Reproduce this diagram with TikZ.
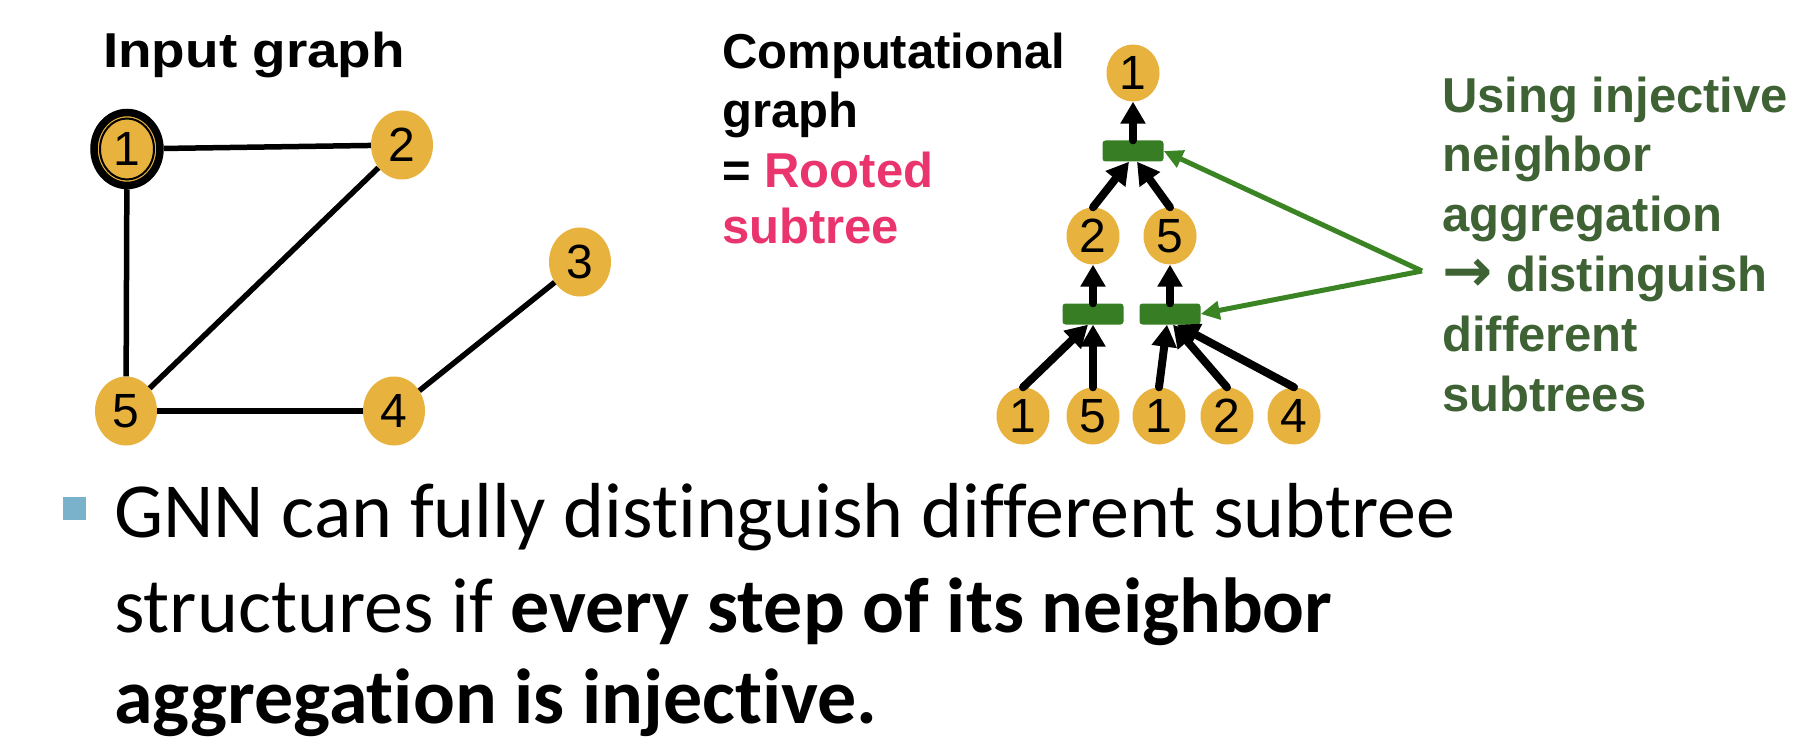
\documentclass[tikz,border=0pt]{standalone}
\usepackage{fontspec}
\usepackage{graphicx}
\setmainfont{Liberation Sans}
\newfontfamily\bodyfont[Ligatures=NoCommon]{Carlito}
\newfontfamily\arrowfont{DejaVu Sans}
\usetikzlibrary{arrows.meta,shapes.geometric,calc}
\definecolor{nodeyellow}{RGB}{232,178,62}
\definecolor{boxgreen}{RGB}{54,125,35}
\definecolor{arrowgreen}{RGB}{58,132,36}
\definecolor{textgreen}{RGB}{63,98,52}
\definecolor{rootpink}{RGB}{234,52,110}
\definecolor{bulletblue}{RGB}{122,178,204}
\tikzset{
  gnode/.style={ellipse, fill=nodeyellow, inner sep=0pt, minimum width=62pt, minimum height=69pt, font=\fontsize{48}{48}\selectfont},
  tnode/.style={ellipse, fill=nodeyellow, inner sep=0pt, minimum width=53pt, minimum height=57pt, font=\fontsize{48}{48}\selectfont},
  aggbox/.style={rectangle, rounded corners=3pt, fill=boxgreen, minimum width=61pt, minimum height=21pt, inner sep=0pt},
  gedge/.style={line width=5.5pt},
  tarrow/.style={line width=8pt, line cap=round, -{Triangle[width=24pt,length=22pt]}},
  garrow/.style={draw=arrowgreen, line width=5pt, -{Triangle[width=18pt,length=19pt]}},
  headtxt/.style={anchor=base west, inner sep=0pt, font=\fontsize{49}{49}\selectfont\bfseries},
  bodytxt/.style={anchor=base west, inner sep=0pt, font=\bodyfont\fontsize{78}{78}\selectfont},
}
\begin{document}
\begin{tikzpicture}[x=1pt,y=-1pt]
\useasboundingbox[fill=white] (0,0) rectangle (1816,754);

% ---- Input graph ----
\node[headtxt] (title) at (103,68) {\scalebox{1.12}[1]{Input graph}};

\node[gnode, draw=black, line width=7.5pt, minimum width=66pt, minimum height=73pt] (n1) at (127,149) {1};
\draw[line width=2pt] (n1.center) ellipse [x radius=27pt, y radius=30.5pt];
\node[gnode] (n2) at (402,145) {2};
\node[gnode] (n3) at (580,262) {3};
\node[gnode] (n4) at (394,411) {4};
\node[gnode] (n5) at (126,411) {5};

\draw[gedge] (n1) -- (n2);
\draw[gedge] (n1) -- (n5);
\draw[gedge] (n2) -- (n5);
\draw[gedge] (n5) -- (n4);
\draw[gedge] (n4) -- (n3);

% ---- Computational graph text ----
\node[headtxt] (c1) at (722,69) {Computational};
\node[headtxt] (c2) at (722,128) {graph};
\node[headtxt] (c3) at (722,188) {= \textcolor{rootpink}{Rooted}};
\node[headtxt, text=rootpink] (c4) at (722,244) {subtree};

% ---- Tree ----
\node[tnode] (t1) at (1133,73) {1};
\node[aggbox] (b1) at (1133,151) {};
\node[tnode] (t2) at (1093,236) {2};
\node[tnode] (t5) at (1170,236) {5};
\node[aggbox] (b2) at (1093,314) {};
\node[aggbox] (b5) at (1170,314) {};
\node[tnode] (l1) at (1023,416) {1};
\node[tnode] (l5) at (1093,416) {5};
\node[tnode] (r1) at (1159,416) {1};
\node[tnode] (r2) at (1227,416) {2};
\node[tnode] (r4) at (1294,416) {4};

\draw[tarrow] (b1.north) -- (t1.south);
\draw[tarrow] (t2.north) -- ($(b1.south)+(-4,0)$);
\draw[tarrow] (t5.north) -- ($(b1.south)+(4,0)$);
\draw[tarrow] (b2.north) -- (t2.south);
\draw[tarrow] (b5.north) -- (t5.south);
\draw[tarrow] (l1.north) -- ($(b2.south)+(-5,0)$);
\draw[tarrow] (l5.north) -- (b2.south);
\draw[tarrow] (r1.north) -- ($(b5.south)+(-3,0)$);
\draw[tarrow] (r2.north) -- ($(b5.south)+(3,0)$);
\draw[tarrow] (r4.north) -- ($(b5.south)+(7,0)$);

% ---- Green annotation ----
\coordinate (V) at (1422,271);
\draw[garrow] (V) -- (b1.east);
\draw[garrow] (V) -- (b5.east);

\node[headtxt, text=textgreen] (g1) at (1442,113) {Using injective};
\node[headtxt, text=textgreen] (g2) at (1442,172) {neighbor};
\node[headtxt, text=textgreen] (g3) at (1442,232) {aggregation};
\node[headtxt, text=textgreen] (g4) at (1442,291) {{\arrowfont\fontsize{60}{60}\selectfont →} distinguish};
\node[headtxt, text=textgreen] (g5) at (1442,351) {different};
\node[headtxt, text=textgreen] (g6) at (1442,411) {subtrees};

% ---- Bullet text ----
\node[fill=bulletblue, minimum width=23pt, minimum height=23pt, inner sep=0pt] (bullet) at (74.5,508) {};
\node[bodytxt] (p1) at (114,537) {GNN can fully distinguish different subtree};
\node[bodytxt] (p2) at (114,632) {structures if \textbf{every step of its neighbor}};
\node[bodytxt] (p3) at (114,723) {\textbf{aggregation is injective.}};
\end{tikzpicture}
\end{document}
